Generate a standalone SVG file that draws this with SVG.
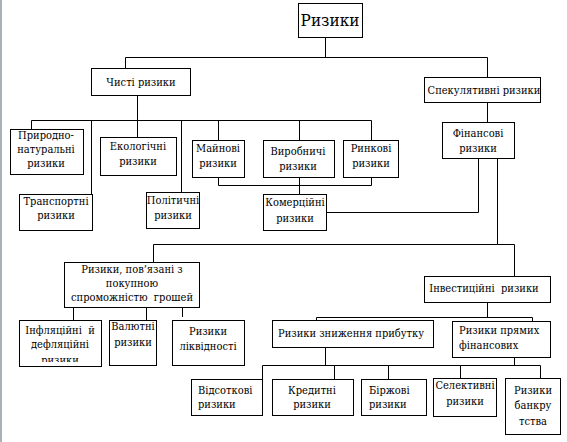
<svg xmlns="http://www.w3.org/2000/svg" width="567" height="442" viewBox="0 0 567 442">
<style>
.b{fill:#fff;stroke:#000;stroke-width:1}
.c{fill:none;stroke:#000;stroke-width:1}
.t{font-family:'DejaVu Serif Condensed','DejaVu Serif','Noto Serif',serif;font-size:11px;fill:#000}
.m{text-anchor:middle}
</style>
<defs>
<clipPath id="clipInf"><rect x="19" y="320" width="82" height="42"/></clipPath>
</defs>
<rect x="0" y="0" width="567" height="442" fill="#fff"/>
<rect x="0" y="0" width="2" height="442" fill="#a9b1b9"/>
<g id="connectors" class="c">
<path d="M325.5 37V57.5M125.5 68V57.5H487.5V77"/>
<path d="M137.5 95V120.5M31.5 129V120.5H371.5V140M91.5 120.5V194M137.5 120.5V137M181.5 120.5V192M218.5 120.5V140M299.5 120.5V140"/>
<path d="M218.5 177V185.5H371.5V177M299.5 177V194"/>
<path d="M326 212.5H478.5V158"/>
<path d="M487.5 102V122"/>
<path d="M497.5 158V244.5H153.5V262M497.5 244.5H514.5V276"/>
<path d="M73.5 307V320M146.5 307V320M182.5 307V317"/>
<path d="M487.5 302V317.5M316.5 320V317.5H532.5V321"/>
<path d="M325.5 347V365.5M514.5 357V365.5M262.5 379V365.5H540.5V378M334.5 365.5V379M388.5 365.5V379M460.5 365.5V378"/>
</g>
<g id="n-rizyky"><rect class="b" x="298.5" y="3.5" width="64" height="34"/><text class="t m" x="330" y="26" style="font-size:17px">Ризики</text></g>
<g id="n-chysti"><rect class="b" x="91.5" y="68.5" width="99" height="27"/><text class="t m" x="141" y="86">Чисті ризики</text></g>
<g id="n-spek"><rect class="b" x="424.5" y="77.5" width="116" height="25"/><text class="t m" x="484" y="94">Спекулятивні ризики</text></g>
<g id="n-fin"><rect class="b" x="442.5" y="122.5" width="72" height="36"/><text class="t m" x="478" y="137">Фінансові</text><text class="t m" x="478" y="152">ризики</text></g>
<g id="n-pryr"><rect class="b" x="10.5" y="129.5" width="73" height="45"/><text class="t m" x="46" y="139">Природно-</text><text class="t m" x="46" y="153">натуральні</text><text class="t m" x="46" y="167">ризики</text></g>
<g id="n-ekol"><rect class="b" x="100.5" y="137.5" width="76" height="38"/><text class="t m" x="138" y="150">Екологічні</text><text class="t m" x="138" y="165">ризики</text></g>
<g id="n-trans"><rect class="b" x="19.5" y="194.5" width="73" height="36"/><text class="t m" x="56" y="205">Транспортні</text><text class="t m" x="56" y="219">ризики</text></g>
<g id="n-polit"><rect class="b" x="146.5" y="192.5" width="53" height="36"/><text class="t m" x="173" y="204">Політичні</text><text class="t m" x="173" y="219">ризики</text></g>
<g id="n-main"><rect class="b" x="192.5" y="140.5" width="52" height="37"/><text class="t m" x="218" y="152">Майнові</text><text class="t m" x="218" y="167">ризики</text></g>
<g id="n-vyrob"><rect class="b" x="263.5" y="140.5" width="71" height="37"/><text class="t m" x="298" y="155">Виробничі</text><text class="t m" x="298" y="170">ризики</text></g>
<g id="n-rynk"><rect class="b" x="343.5" y="140.5" width="55" height="37"/><text class="t m" x="371" y="152">Ринкові</text><text class="t m" x="371" y="167">ризики</text></g>
<g id="n-komer"><rect class="b" x="263.5" y="194.5" width="63" height="36"/><text class="t m" x="295" y="206">Комерційні</text><text class="t m" x="295" y="222">ризики</text></g>
<g id="n-pokup"><rect class="b" x="64.5" y="262.5" width="135" height="45"/><text class="t m" x="132" y="273">Ризики, пов’язані з</text><text class="t m" x="132" y="287">покупною</text><text class="t m" x="132" y="301" xml:space="preserve">спроможністю  грошей</text></g>
<g id="n-infl"><rect class="b" x="19.5" y="320.5" width="82" height="46"/><g clip-path="url(#clipInf)"><text class="t m" x="60" y="334" xml:space="preserve">Інфляційні  й</text><text class="t m" x="60" y="348">дефляційні</text><text class="t m" x="60" y="364">ризики</text></g></g>
<g id="n-valut"><rect class="b" x="109.5" y="320.5" width="47" height="45"/><text class="t m" x="133" y="330">Валютні</text><text class="t m" x="133" y="346">ризики</text></g>
<g id="n-likv"><rect class="b" x="172.5" y="320.5" width="72" height="45"/><text class="t m" x="208" y="335">Ризики</text><text class="t m" x="208" y="350">ліквідності</text></g>
<g id="n-invest"><rect class="b" x="424.5" y="276.5" width="126" height="26"/><text class="t m" x="484" y="292" xml:space="preserve">Інвестиційні  ризики</text></g>
<g id="n-znyzh"><rect class="b" x="272.5" y="320.5" width="161" height="27"/><text class="t" x="278" y="337">Ризики зниження прибутку</text></g>
<g id="n-pryam"><rect class="b" x="452.5" y="321.5" width="98" height="36"/><text class="t" x="459" y="334">Ризики прямих</text><text class="t" x="459" y="349">фінансових</text></g>
<g id="n-vidsot"><rect class="b" x="191.5" y="379.5" width="71" height="36"/><text class="t" x="198" y="394">Відсоткові</text><text class="t" x="198" y="408">ризики</text></g>
<g id="n-kred"><rect class="b" x="272.5" y="379.5" width="81" height="36"/><text class="t m" x="312" y="394">Кредитні</text><text class="t m" x="312" y="408">ризики</text></g>
<g id="n-birzh"><rect class="b" x="361.5" y="379.5" width="65" height="36"/><text class="t" x="369" y="394">Біржові</text><text class="t" x="369" y="408">ризики</text></g>
<g id="n-selekt"><rect class="b" x="433.5" y="378.5" width="63" height="38"/><text class="t m" x="465" y="389">Селективні</text><text class="t m" x="465" y="405">ризики</text></g>
<g id="n-bankr"><rect class="b" x="505.5" y="378.5" width="55" height="56"/><text class="t m" x="533" y="394">Ризики</text><text class="t m" x="533" y="409">банкру</text><text class="t m" x="533" y="425">тства</text></g>
</svg>
